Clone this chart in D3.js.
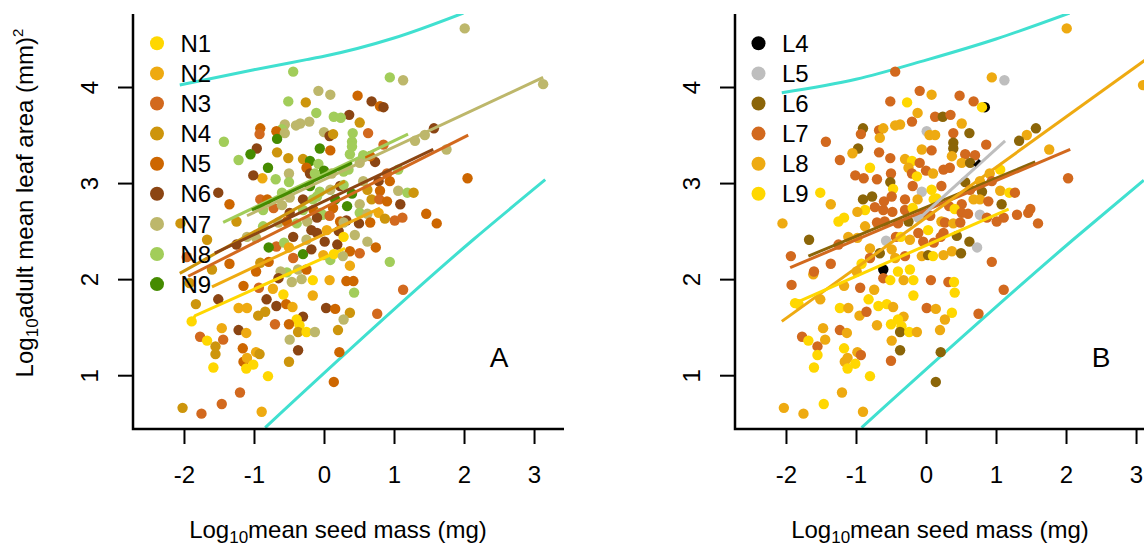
<!DOCTYPE html>
<html><head><meta charset="utf-8">
<script src="https://cdn.jsdelivr.net/npm/d3@7"></script>
<style>
body{margin:0;background:#fff;}
svg{display:block;font-family:"Liberation Sans",Arimo,Arial,Helvetica,sans-serif;}
</style></head><body>
<svg id="chart" width="1144" height="547"></svg>
<script>
// ---------- data ----------
const xTicks = [-2, -1, 0, 1, 2, 3];
const yTicks = [1, 2, 3, 4];
const xDomain = [-2.728, 3.428];
const yDomain = [0.44, 4.76];

const groupsN = ["N1","N2","N3","N4","N5","N6","N7","N8","N9"];
const colorsN = ["#FFD700","#EEAA11","#D2691E","#CD950C","#CD6600","#8B4513","#BDB76B","#A2CD5A","#458B00"];
const groupsL = ["L4","L5","L6","L7","L8","L9"];
const colorsL = ["#000000","#BEBEBE","#8B6508","#D2691E","#EEAA11","#FFD700"];

const pointsN = [
[2.01,4.61,"N7"],[-0.44,4.16,"N8"],[0.94,4.10,"N8"],[1.13,4.07,"N7"],[3.13,4.03,"N7"],
[-0.08,3.96,"N7"],[0.09,3.92,"N7"],[0.48,3.91,"N5"],[-0.51,3.85,"N8"],[-0.26,3.84,"N4"],
[0.68,3.85,"N6"],[0.80,3.80,"N5"],[0.85,3.79,"N6"],[-0.11,3.73,"N8"],[0.36,3.71,"N6"],
[0.14,3.69,"N8"],[0.24,3.68,"N8"],[0.51,3.63,"N4"],[-0.21,3.64,"N7"],[-0.34,3.62,"N7"],
[-0.40,3.60,"N7"],[-0.56,3.61,"N7"],[-0.60,3.56,"N8"],[-0.91,3.57,"N5"],[-0.92,3.51,"N3"],
[-0.68,3.54,"N5"],[-0.56,3.52,"N7"],[0.00,3.53,"N7"],[0.08,3.49,"N6"],[0.13,3.51,"N4"],
[0.41,3.52,"N8"],[0.63,3.52,"N3"],[1.57,3.57,"N6"],[1.44,3.50,"N7"],[1.30,3.44,"N7"],
[0.40,3.43,"N8"],[0.40,3.38,"N8"],[0.85,3.40,"N3"],[-1.43,3.43,"N8"],[-0.67,3.46,"N9"],
[-0.96,3.36,"N6"],[-1.05,3.30,"N9"],[-0.67,3.32,"N4"],[-0.06,3.36,"N9"],[0.09,3.34,"N5"],
[-1.22,3.24,"N8"],[-0.51,3.26,"N4"],[-0.30,3.25,"N4"],[-0.20,3.23,"N9"],[-0.08,3.20,"N8"],
[0.37,3.30,"N8"],[0.56,3.29,"N8"],[0.51,3.21,"N7"],[0.73,3.22,"N6"],[0.66,3.28,"N5"],
[1.75,3.35,"N7"],[-0.80,3.16,"N9"],[-0.88,3.05,"N2"],[-1.01,3.08,"N6"],[-0.69,3.04,"N8"],
[-0.50,3.10,"N7"],[-0.25,3.16,"N5"],[-0.20,3.10,"N6"],[0.00,3.13,"N9"],[-0.13,3.10,"N8"],
[0.11,3.10,"N7"],[0.28,3.12,"N8"],[0.35,3.14,"N8"],[1.06,3.14,"N8"],[0.90,3.10,"N3"],
[0.94,3.02,"N5"],[0.78,3.02,"N6"],[2.05,3.05,"N5"],[-0.50,3.01,"N8"],[-0.20,2.97,"N9"],
[-0.06,2.91,"N8"],[0.09,2.93,"N7"],[0.23,2.97,"N6"],[0.28,2.98,"N8"],[0.40,2.89,"N9"],
[0.56,3.02,"N7"],[0.62,2.93,"N4"],[0.80,2.92,"N5"],[1.06,2.92,"N7"],[1.19,2.90,"N8"],
[1.28,2.90,"N4"],[-1.51,2.90,"N6"],[-1.35,2.78,"N5"],[-0.91,2.83,"N3"],[-0.81,2.83,"N5"],
[-0.60,2.90,"N8"],[-0.49,2.85,"N7"],[-0.30,2.83,"N6"],[-0.16,2.83,"N8"],[-0.10,2.86,"N8"],
[0.16,2.83,"N9"],[0.51,2.78,"N7"],[0.33,2.76,"N9"],[0.13,2.74,"N5"],[0.68,2.83,"N4"],
[0.79,2.83,"N3"],[0.90,2.81,"N5"],[1.09,2.78,"N6"],[-0.87,2.72,"N8"],[-0.72,2.74,"N3"],
[-0.60,2.77,"N7"],[-0.49,2.69,"N6"],[-0.30,2.72,"N8"],[-0.15,2.72,"N5"],[-0.05,2.69,"N8"],
[-0.02,2.67,"N8"],[0.08,2.66,"N3"],[0.51,2.69,"N8"],[0.62,2.68,"N7"],[0.78,2.69,"N2"],
[0.87,2.63,"N4"],[1.01,2.61,"N3"],[1.12,2.64,"N3"],[1.46,2.68,"N5"],[1.61,2.58,"N5"],
[-1.25,2.60,"N4"],[-0.87,2.55,"N8"],[-0.65,2.59,"N7"],[-0.53,2.60,"N5"],[-0.39,2.58,"N8"],
[-0.24,2.60,"N7"],[-0.10,2.64,"N6"],[0.23,2.60,"N5"],[0.32,2.61,"N6"],[0.28,2.59,"N7"],
[0.50,2.58,"N6"],[0.66,2.59,"N5"],[-2.05,2.58,"N4"],[-1.67,2.41,"N4"],[-1.25,2.36,"N6"],
[-1.10,2.44,"N7"],[-0.97,2.43,"N7"],[-0.68,2.34,"N3"],[-0.57,2.38,"N8"],[-0.44,2.44,"N6"],
[-0.25,2.41,"N7"],[-0.18,2.51,"N6"],[-0.10,2.48,"N6"],[0.04,2.51,"N2"],[0.21,2.50,"N6"],
[0.01,2.39,"N6"],[0.19,2.36,"N6"],[0.28,2.44,"N1"],[0.44,2.46,"N7"],[0.62,2.39,"N7"],
[0.37,2.29,"N5"],[0.51,2.27,"N3"],[0.74,2.33,"N5"],[-1.96,2.23,"N3"],[-1.60,2.10,"N4"],
[-1.35,2.16,"N5"],[-0.91,2.17,"N4"],[-0.79,2.33,"N9"],[-0.79,2.18,"N5"],[-0.50,2.33,"N2"],
[-0.44,2.22,"N3"],[-0.30,2.26,"N9"],[-0.18,2.31,"N6"],[-0.37,2.10,"N7"],[-0.53,2.07,"N8"],
[-0.62,2.08,"N7"],[-0.25,2.10,"N5"],[-0.01,2.25,"N2"],[0.09,2.20,"N8"],[0.14,2.26,"N1"],
[0.27,2.24,"N7"],[0.37,2.14,"N2"],[0.94,2.18,"N8"],[-0.97,2.08,"N5"],[-1.92,1.96,"N4"],
[-1.83,1.74,"N4"],[-1.51,1.79,"N6"],[-1.15,1.93,"N5"],[-0.93,1.91,"N3"],[-0.73,1.90,"N2"],
[-0.58,1.84,"N1"],[-0.65,2.01,"N6"],[-0.46,1.97,"N7"],[-0.32,2.00,"N7"],[-0.16,1.99,"N1"],
[0.08,1.99,"N2"],[0.32,1.98,"N5"],[0.42,1.98,"N5"],[0.43,1.86,"N8"],[1.13,1.89,"N3"],
[-0.16,1.83,"N2"],[-0.82,1.79,"N6"],[-0.68,1.72,"N6"],[-0.54,1.74,"N5"],[-0.45,1.71,"N2"],
[-1.22,1.70,"N2"],[-1.10,1.70,"N2"],[-0.94,1.62,"N4"],[-0.84,1.66,"N4"],[0.03,1.70,"N6"],
[0.16,1.69,"N5"],[0.37,1.65,"N4"],[0.76,1.64,"N3"],[-0.30,1.61,"N6"],[-0.39,1.58,"N1"],
[0.28,1.58,"N7"],[-0.70,1.53,"N3"],[-0.50,1.53,"N5"],[-0.35,1.52,"N1"],[-1.46,1.49,"N2"],
[-1.22,1.47,"N6"],[-1.11,1.44,"N2"],[-0.37,1.45,"N4"],[-0.25,1.45,"N1"],[-0.13,1.45,"N7"],
[0.20,1.47,"N4"],[-1.77,1.40,"N3"],[-1.67,1.36,"N1"],[-1.44,1.37,"N3"],[-0.49,1.37,"N7"],
[-1.55,1.30,"N4"],[-1.55,1.22,"N4"],[-1.16,1.28,"N5"],[-0.97,1.24,"N2"],[-0.92,1.22,"N4"],
[-0.37,1.26,"N6"],[0.22,1.24,"N5"],[-1.15,1.14,"N5"],[-1.10,1.18,"N2"],[-1.01,1.11,"N1"],
[-1.11,1.07,"N1"],[-0.50,1.14,"N4"],[-1.58,1.08,"N1"],[-0.80,0.99,"N1"],[0.14,0.93,"N5"],
[-1.20,0.82,"N3"],[-1.46,0.70,"N3"],[-2.02,0.66,"N4"],[-1.75,0.60,"N3"],[-0.89,0.62,"N2"],
[-1.89,1.56,"N1"]
];

const pointsL = [
[2.01,4.61,"L8"],[-0.44,4.16,"L7"],[0.94,4.10,"L8"],[1.12,4.07,"L5"],[3.10,4.02,"L8"],
[-0.09,3.96,"L7"],[0.08,3.92,"L8"],[0.48,3.91,"L7"],[-0.51,3.85,"L7"],[-0.27,3.84,"L9"],
[0.68,3.85,"L7"],[0.84,3.79,"L4"],[0.80,3.79,"L9"],[-0.12,3.73,"L8"],[0.13,3.69,"L7"],
[0.24,3.69,"L6"],[0.35,3.71,"L7"],[-0.20,3.64,"L7"],[-0.37,3.61,"L8"],[-0.44,3.60,"L8"],
[0.51,3.62,"L8"],[-0.90,3.57,"L6"],[-0.93,3.51,"L7"],[-0.67,3.55,"L7"],[-0.61,3.57,"L8"],
[-0.66,3.47,"L8"],[0.01,3.54,"L5"],[0.05,3.50,"L8"],[0.13,3.50,"L8"],[0.39,3.52,"L7"],
[0.39,3.42,"L6"],[0.39,3.36,"L6"],[0.62,3.52,"L6"],[1.57,3.57,"L6"],[1.44,3.50,"L8"],
[1.33,3.44,"L6"],[1.76,3.35,"L8"],[0.86,3.40,"L7"],[-1.43,3.43,"L7"],[-0.97,3.36,"L6"],
[-1.05,3.31,"L8"],[-0.67,3.32,"L7"],[-0.06,3.35,"L8"],[0.08,3.34,"L7"],[-1.23,3.24,"L7"],
[-0.51,3.26,"L7"],[-0.30,3.25,"L8"],[-0.20,3.23,"L9"],[-0.09,3.21,"L7"],[0.37,3.28,"L8"],
[0.56,3.30,"L7"],[0.70,3.29,"L7"],[0.51,3.21,"L8"],[0.63,3.21,"L6"],[-0.80,3.16,"L9"],
[-0.89,3.05,"L7"],[-1.01,3.08,"L7"],[-0.70,3.04,"L7"],[-0.50,3.10,"L7"],[-0.25,3.16,"L8"],
[-0.20,3.10,"L7"],[0.00,3.13,"L7"],[-0.13,3.07,"L9"],[0.10,3.10,"L8"],[0.25,3.14,"L7"],
[0.34,3.16,"L7"],[1.06,3.14,"L9"],[0.91,3.10,"L8"],[0.94,3.02,"L7"],[0.77,3.02,"L8"],
[2.03,3.05,"L7"],[-0.51,3.01,"L6"],[-0.47,2.94,"L9"],[-0.19,2.97,"L7"],[-0.06,2.91,"L5"],
[0.08,2.93,"L9"],[0.15,2.84,"L9"],[0.22,2.97,"L7"],[0.56,3.01,"L6"],[0.63,2.93,"L7"],
[0.80,2.91,"L6"],[1.06,2.92,"L8"],[1.19,2.90,"L9"],[1.27,2.90,"L7"],[-1.51,2.90,"L9"],
[-1.36,2.78,"L8"],[-0.90,2.83,"L6"],[-0.77,2.86,"L6"],[-0.60,2.81,"L7"],[-0.49,2.86,"L7"],
[-0.30,2.83,"L7"],[-0.12,2.83,"L8"],[0.11,2.83,"L9"],[0.33,2.76,"L7"],[0.51,2.78,"L7"],
[0.68,2.83,"L8"],[0.77,2.83,"L8"],[0.89,2.81,"L7"],[1.08,2.78,"L6"],[-0.87,2.72,"L9"],
[-0.98,2.70,"L8"],[-0.73,2.75,"L7"],[-0.61,2.72,"L7"],[-0.48,2.70,"L7"],[-0.30,2.72,"L7"],
[-0.19,2.74,"L9"],[-0.04,2.69,"L7"],[0.06,2.66,"L7"],[0.41,2.73,"L9"],[0.51,2.69,"L7"],
[0.60,2.68,"L7"],[0.77,2.67,"L5"],[0.87,2.64,"L7"],[1.01,2.60,"L7"],[1.11,2.64,"L7"],
[1.30,2.67,"L7"],[1.46,2.69,"L7"],[1.49,2.73,"L7"],[1.60,2.58,"L7"],[-1.25,2.60,"L9"],
[-1.17,2.64,"L9"],[-2.05,2.58,"L8"],[-0.87,2.55,"L8"],[-0.70,2.59,"L7"],[-0.59,2.60,"L7"],
[-0.40,2.58,"L7"],[-0.25,2.60,"L6"],[-0.11,2.64,"L5"],[0.22,2.60,"L8"],[0.27,2.59,"L7"],
[0.39,2.58,"L8"],[0.49,2.59,"L7"],[0.03,2.51,"L9"],[0.25,2.48,"L7"],[-1.67,2.41,"L6"],
[-1.25,2.36,"L7"],[-1.11,2.44,"L8"],[-0.98,2.43,"L8"],[-0.80,2.32,"L8"],[-0.57,2.40,"L5"],
[-0.43,2.44,"L7"],[-0.36,2.44,"L9"],[-0.23,2.41,"L8"],[-0.11,2.48,"L7"],[-0.04,2.39,"L7"],
[0.11,2.38,"L7"],[0.21,2.44,"L7"],[0.44,2.45,"L6"],[0.62,2.39,"L6"],[0.73,2.33,"L5"],
[0.37,2.29,"L8"],[0.50,2.27,"L6"],[-1.93,2.24,"L7"],[-1.61,2.05,"L8"],[-1.60,2.08,"L7"],
[-1.36,2.16,"L7"],[-0.92,2.16,"L9"],[-0.80,2.22,"L7"],[-0.66,2.27,"L6"],[-0.49,2.31,"L8"],
[-0.44,2.22,"L8"],[-0.30,2.24,"L7"],[-0.06,2.24,"L8"],[0.03,2.25,"L6"],[0.10,2.24,"L9"],
[0.25,2.25,"L8"],[0.94,2.18,"L7"],[-0.99,2.08,"L8"],[-0.61,2.10,"L4"],[-1.92,1.94,"L7"],
[-1.82,1.74,"L9"],[-1.51,1.79,"L8"],[-1.17,1.93,"L8"],[-0.94,1.91,"L7"],[-0.74,1.89,"L8"],
[-0.61,2.01,"L7"],[-0.51,1.99,"L9"],[-0.40,2.08,"L9"],[-0.32,1.99,"L8"],[-0.23,2.10,"L9"],
[-0.18,1.99,"L9"],[0.07,1.99,"L7"],[0.32,1.97,"L7"],[0.40,1.97,"L9"],[0.41,1.86,"L9"],
[1.11,1.89,"L7"],[-0.18,1.83,"L9"],[-0.82,1.79,"L9"],[-0.68,1.72,"L9"],[-0.56,1.74,"L9"],
[-0.47,1.71,"L8"],[-1.23,1.70,"L9"],[-1.11,1.70,"L8"],[-0.95,1.62,"L8"],[-0.85,1.66,"L7"],
[0.01,1.70,"L7"],[0.14,1.69,"L8"],[0.37,1.65,"L9"],[0.75,1.64,"L7"],[-0.32,1.61,"L8"],
[-0.40,1.58,"L9"],[0.27,1.58,"L8"],[-0.70,1.52,"L8"],[-0.50,1.53,"L9"],[-0.35,1.51,"L9"],
[-1.47,1.49,"L8"],[-1.23,1.47,"L7"],[-1.13,1.44,"L8"],[-0.37,1.45,"L6"],[-0.24,1.45,"L9"],
[-0.13,1.45,"L8"],[0.20,1.47,"L8"],[-1.77,1.40,"L7"],[-1.68,1.36,"L9"],[-1.44,1.37,"L8"],
[-0.49,1.36,"L8"],[-1.55,1.30,"L7"],[-1.55,1.21,"L9"],[-1.17,1.28,"L9"],[-0.98,1.24,"L8"],
[-0.93,1.21,"L7"],[-0.37,1.26,"L6"],[0.21,1.24,"L6"],[-1.16,1.14,"L8"],[-1.12,1.18,"L8"],
[-1.01,1.12,"L9"],[-1.12,1.07,"L9"],[-0.50,1.15,"L7"],[-1.60,1.08,"L9"],[-0.80,0.99,"L9"],
[0.14,0.93,"L6"],[-1.20,0.82,"L8"],[-1.46,0.70,"L9"],[-2.03,0.66,"L8"],[-1.75,0.60,"L8"],
[-0.90,0.62,"L8"],[-1.87,1.75,"L9"]
];

// fitted lines (endpoints in data units)
const linesN = [
  {g:"N4", pts:[[-2.06,2.06],[0.30,3.02]]},
  {g:"N3", pts:[[-1.94,2.03],[2.06,3.50]]},
  {g:"N6", pts:[[-1.56,2.27],[1.56,3.35]]},
  {g:"N2", pts:[[-1.60,1.92],[0.80,2.74]]},
  {g:"N1", pts:[[-1.89,1.56],[-1.84,1.62],[0.30,2.32]]},
  {g:"N7", pts:[[-1.10,2.66],[3.13,4.10]]},
  {g:"N8", pts:[[-1.44,2.59],[1.20,3.51]]},
  {g:"N9", pts:[[-1.03,2.72],[0.40,3.21]]}
];
const linesL = [
  {g:"L6", pts:[[-1.68,2.24],[1.56,3.22]]},
  {g:"L7", pts:[[-1.94,2.12],[2.06,3.35]]},
  {g:"L5", pts:[[-0.13,2.61],[1.13,3.44]]},
  {g:"L4", pts:[[0.69,3.18],[0.77,3.24]]},
  {g:"L8", pts:[[-2.06,1.56],[3.13,4.28]]},
  {g:"L9", pts:[[-1.87,1.75],[1.18,2.73]]}
];

// turquoise envelope curves
const envUpperA = [[-2.06,4.02],[-1,4.18],[-0.25,4.285],[0,4.32],[1,4.51],[1.99,4.77]];
const envLowerA = [[-0.84,0.455],[2.13,2.41],[3.16,3.035]];
const envUpperB = [[-2.06,3.94],[-1,4.08],[0,4.28],[1,4.50],[2.05,4.77]];
const envLowerB = [[-0.92,0.455],[2.10,2.41],[3.11,3.03]];

// ---------- drawing ----------
const svg = d3.select("#chart");
const FONT = 24;
const fmt = d => String(d);   // plain hyphen-minus like the original

function panel(opts){
  const {x0, points, groups, colors, lines, envU, envL, letter, legendX, yTitle, id} = opts;
  const x = d3.scaleLinear().domain(xDomain).range([x0, x0 + 431]);
  const y = d3.scaleLinear().domain(yDomain).range([429, 14]);
  const col = d3.scaleOrdinal().domain(groups).range(colors);

  svg.append("clipPath").attr("id", "clip" + id)
    .append("rect").attr("x", x0).attr("y", 14).attr("width", 431).attr("height", 415);

  const g = svg.append("g");
  const line = d3.line().x(d => x(d[0])).y(d => y(d[1]));
  const cline = d3.line().x(d => x(d[0])).y(d => y(d[1])).curve(d3.curveMonotoneX);
  const ge = g.append("g").attr("clip-path", `url(#clip${id})`);
  [envU, envL].forEach(e => ge.append("path").attr("d", cline(e))
      .attr("fill", "none").attr("stroke", "#40E0D0").attr("stroke-width", 3));

  // points
  g.append("g").attr("clip-path", `url(#clip${id})`).selectAll("circle").data(points).join("circle")
    .attr("cx", d => x(d[0])).attr("cy", d => y(d[1])).attr("r", 5.2)
    .attr("fill", d => col(d[2]));

  // fitted lines
  g.append("g").attr("clip-path", `url(#clip${id})`).selectAll("path").data(lines).join("path")
    .attr("d", d => line(d.pts)).attr("fill", "none")
    .attr("stroke", d => col(d.g)).attr("stroke-width", 3);

  // L-shaped box
  g.append("path")
    .attr("d", `M${x0},14V429H${x0 + 431}`)
    .attr("fill", "none").attr("stroke", "#000").attr("stroke-width", 2.5);

  // x axis
  const ax = g.append("g").attr("transform", "translate(0,429)")
    .call(d3.axisBottom(x).tickValues(xTicks).tickSize(15).tickFormat(fmt));
  ax.select(".domain").remove();
  ax.selectAll("line").attr("stroke-width", 2);
  ax.selectAll("text").attr("y", 54).attr("dy", 0)
    .attr("font-size", FONT).attr("font-family", null).attr("fill", "#000");

  // y axis
  const ay = g.append("g").attr("transform", `translate(${x0},0)`)
    .call(d3.axisLeft(y).tickValues(yTicks).tickSize(15).tickFormat(fmt));
  ay.select(".domain").remove();
  ay.selectAll("line").attr("stroke-width", 2);
  ay.selectAll("text").attr("x", null).attr("dy", null)
    .attr("transform", "translate(-35,0) rotate(-90)")
    .attr("text-anchor", "middle")
    .attr("font-size", FONT).attr("font-family", null).attr("fill", "#000");

  // x title
  const xt = g.append("text").attr("x", x0 + 205).attr("y", 538)
    .attr("text-anchor", "middle").attr("font-size", FONT);
  xt.append("tspan").text("Log");
  xt.append("tspan").attr("font-size", 17).attr("dy", 5).text("10");
  xt.append("tspan").attr("dy", -5).text("mean seed mass (mg)");

  if (yTitle) {
    const yt = g.append("text").attr("transform", "translate(33,203) rotate(-90)")
      .attr("text-anchor", "middle").attr("font-size", FONT);
    yt.append("tspan").text("Log");
    yt.append("tspan").attr("font-size", 17).attr("dy", 5).text("10");
    yt.append("tspan").attr("dy", -5).text("adult mean leaf area (mm)");
    yt.append("tspan").attr("font-size", 15).attr("dy", -10).text("2");
  }

  // panel letter
  g.append("text").attr("x", x0 + 366).attr("y", 367).attr("text-anchor", "middle")
    .attr("font-size", 28).text(letter);

  // legend
  const lg = g.append("g");
  groups.forEach((gr, i) => {
    const cy = 43.3 + i * 30.1;
    lg.append("circle").attr("cx", legendX).attr("cy", cy).attr("r", 7).attr("fill", colors[i]);
    lg.append("text").attr("x", legendX + 23.5).attr("y", cy).attr("dy", "0.36em")
      .attr("font-size", FONT).text(gr);
  });
}

panel({id:"A", x0:133, points:pointsN, groups:groupsN, colors:colorsN, lines:linesN,
       envU:envUpperA, envL:envLowerA, letter:"A", legendX:157, yTitle:true});
panel({id:"B", x0:735, points:pointsL, groups:groupsL, colors:colorsL, lines:linesL,
       envU:envUpperB, envL:envLowerB, letter:"B", legendX:758.5, yTitle:false});
</script>
</body></html>
